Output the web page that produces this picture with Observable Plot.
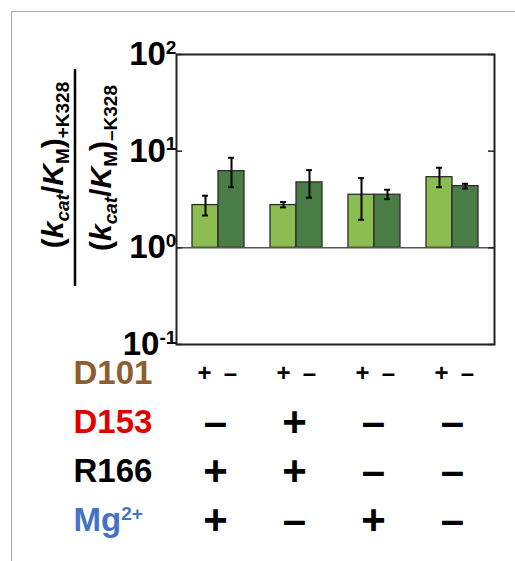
<!DOCTYPE html>
<html><head><meta charset="utf-8">
<script src="https://cdn.jsdelivr.net/npm/d3@7"></script>
<script src="https://cdn.jsdelivr.net/npm/@observablehq/plot@0.6"></script>
<style>
body{margin:0;background:#fff;font-family:"Liberation Sans",Arial,sans-serif;}
#wrap{position:relative;width:515px;height:561px;overflow:hidden;background:#fff;}
#border{position:absolute;left:11px;top:11px;width:520px;height:560px;border-left:1.5px solid #a8a8a8;border-top:1.5px solid #a8a8a8;}
#chart{position:absolute;left:0;top:0;}
#table{position:absolute;left:0;top:350px;}
</style></head><body>
<div id="wrap"><div id="border"></div><div id="chart"></div><div id="table"></div></div>
<script>
// ---- data ----
const groups = ["1", "2", "3", "4"];
const d101Plus = [2.77, 2.77, 3.54, 5.38];
const d101PlusLow = [2.16, 2.62, 1.95, 4.24];
const d101PlusHigh = [3.46, 2.97, 5.26, 6.74];
const d101Minus = [6.21, 4.75, 3.54, 4.35];
const d101MinusLow = [4.24, 3.30, 3.19, 4.11];
const d101MinusHigh = [8.55, 6.36, 3.99, 4.60];
const yTicks = [0.1, 1, 10, 100];
const yTickLabels = ["10^-1", "10^0", "10^1", "10^2"];
const rows = ["D101", "D153", "R166", "Mg^2+"];
const rowColors = ["#8c5f30", "#e00000", "#000000", "#4472c4"];
const d101Signs = ["+", "–"];
const d153Signs = ["–", "+", "–", "–"];
const r166Signs = ["+", "+", "–", "–"];
const mgSigns = ["+", "–", "+", "–"];

// ---- layout ----
const W = 515, H1 = 365, mt = 54, mb = 21, ml = 176, mr = 21;
const plotW = W - ml - mr;
const pIn = 0.335, pOut = 0.2;
const step = plotW / (groups.length - pIn + 2 * pOut);
const bw = step * (1 - pIn);
const half = bw / 2;
const capHalf = 3;
const font = "Liberation Sans, Arial, sans-serif";
const lightGreen = "#8bbd50", darkGreen = "#4a7d45", edge = "#2b2b2b";

const data = groups.map((g, i) => ({
  g, plus: d101Plus[i], plusLo: d101PlusLow[i], plusHi: d101PlusHigh[i],
  minus: d101Minus[i], minusLo: d101MinusLow[i], minusHi: d101MinusHigh[i]
}));

const xScale = {domain: groups, paddingInner: pIn, paddingOuter: pOut, axis: null};

const chart = Plot.plot({
  width: W, height: H1, marginTop: mt, marginBottom: mb, marginLeft: ml, marginRight: mr,
  style: {fontFamily: font, background: "transparent", overflow: "visible"},
  x: xScale,
  y: {type: "log", domain: [0.1, 100], axis: null},
  marks: [
    Plot.barY(data, {x: "g", y1: 1, y2: "plus", insetRight: half, fill: lightGreen, stroke: edge, strokeWidth: 1.3}),
    Plot.barY(data, {x: "g", y1: 1, y2: "minus", insetLeft: half, fill: darkGreen, stroke: edge, strokeWidth: 1.3}),
    Plot.ruleX(data, {x: "g", y1: "plusLo", y2: "plusHi", dx: -half / 2, stroke: "#000", strokeWidth: 2}),
    Plot.ruleX(data, {x: "g", y1: "minusLo", y2: "minusHi", dx: half / 2, stroke: "#000", strokeWidth: 2}),
    Plot.tickY(data, {x: "g", y: "plusHi", insetLeft: half / 2 - capHalf, insetRight: bw - half / 2 - capHalf, stroke: "#000", strokeWidth: 2}),
    Plot.tickY(data, {x: "g", y: "plusLo", insetLeft: half / 2 - capHalf, insetRight: bw - half / 2 - capHalf, stroke: "#000", strokeWidth: 2}),
    Plot.tickY(data, {x: "g", y: "minusHi", insetLeft: bw - half / 2 - capHalf, insetRight: half / 2 - capHalf, stroke: "#000", strokeWidth: 2}),
    Plot.tickY(data, {x: "g", y: "minusLo", insetLeft: bw - half / 2 - capHalf, insetRight: half / 2 - capHalf, stroke: "#000", strokeWidth: 2}),
    Plot.ruleY([1], {stroke: "#555", strokeWidth: 1.5}),
    Plot.ruleY(yTicks, {insetRight: plotW - 6, stroke: "#222", strokeWidth: 1.5}),
    Plot.ruleY(yTicks, {insetLeft: plotW - 6, stroke: "#222", strokeWidth: 1.5}),
    Plot.frame({stroke: "#222", strokeWidth: 2}),
    Plot.text(yTicks, {y: d => d, text: (d, i) => yTickLabels[i], frameAnchor: "left", textAnchor: "end", dx: 0, fontSize: 33, fontWeight: "bold", fill: "#000"})
  ]
});
document.getElementById("chart").appendChild(chart);

// table of conditions
const H2 = 211;
const signData = [];
groups.forEach((g, i) => {
  signData.push({g, row: "D101", s: d101Signs[0], off: -1, size: 24});
  signData.push({g, row: "D101", s: d101Signs[1], off: 1, size: 24});
  signData.push({g, row: "D153", s: d153Signs[i], off: 0, size: 42});
  signData.push({g, row: "R166", s: r166Signs[i], off: 0, size: 42});
  signData.push({g, row: "Mg^2+", s: mgSigns[i], off: 0, size: 42});
});
const table = Plot.plot({
  width: W, height: H2, marginTop: 22, marginBottom: 41, marginLeft: ml, marginRight: mr,
  style: {fontFamily: font, background: "transparent", overflow: "visible"},
  x: xScale,
  y: {type: "point", domain: rows, padding: 0, axis: null},
  color: {type: "identity"},
  marks: [
    Plot.text(rows, {y: d => d, text: d => d, frameAnchor: "left", textAnchor: "start", dx: 73 - ml, fill: (d, i) => rowColors[i], fontSize: 33, fontWeight: "bold"}),
    Plot.text(signData.filter(d => d.off < 0), {x: "g", y: "row", text: "s", dx: -half / 2, fontSize: 24, fontWeight: "bold", fill: "#000"}),
    Plot.text(signData.filter(d => d.off > 0), {x: "g", y: "row", text: "s", dx: half / 2, fontSize: 24, fontWeight: "bold", fill: "#000"}),
    Plot.text(signData.filter(d => d.off === 0), {x: "g", y: "row", text: "s", dx: -2, fontSize: 42, fontWeight: "bold", fill: "#000"})
  ]
});
document.getElementById("table").appendChild(table);

// superscripts: "a^b" -> a<tspan sup>b</tspan>
[chart, table].forEach(svg => {
  svg.querySelectorAll("text").forEach(t => {
    const s = t.textContent;
    if (!s.includes("^")) return;
    const [base, sup] = s.split("^");
    const sel = d3.select(t);
    sel.text(null);
    sel.append("tspan").text(base);
    sel.append("tspan").attr("font-size", "0.58em").attr("dy", "-0.6em").text(sup);
  });
});

// y-axis label as a fraction
const svg = d3.select(chart);
function addLabel(x, y, sub) {
  const t = svg.append("text")
    .attr("transform", `translate(${x},${y}) rotate(-90)`)
    .attr("text-anchor", "middle").attr("font-size", 30).attr("font-weight", "bold")
    .attr("font-family", font).attr("fill", "#000");
  t.append("tspan").text("(");
  t.append("tspan").attr("font-style", "italic").text("k");
  t.append("tspan").attr("font-style", "italic").attr("font-size", 19).attr("dy", 6).text("cat");
  t.append("tspan").attr("dy", -6).text("/");
  t.append("tspan").attr("font-style", "italic").text("K");
  t.append("tspan").attr("font-size", 19).attr("dy", 6).text("M");
  t.append("tspan").attr("dy", -6).text(")");
  t.append("tspan").attr("font-size", 19).attr("dy", 6).text(sub);
}
addLabel(63, 165, "+K328");
addLabel(111, 168, "–K328");
svg.append("line").attr("x1", 75).attr("x2", 75).attr("y1", 69).attr("y2", 286)
  .attr("stroke", "#000").attr("stroke-width", 2.5);
</script>
</body></html>
